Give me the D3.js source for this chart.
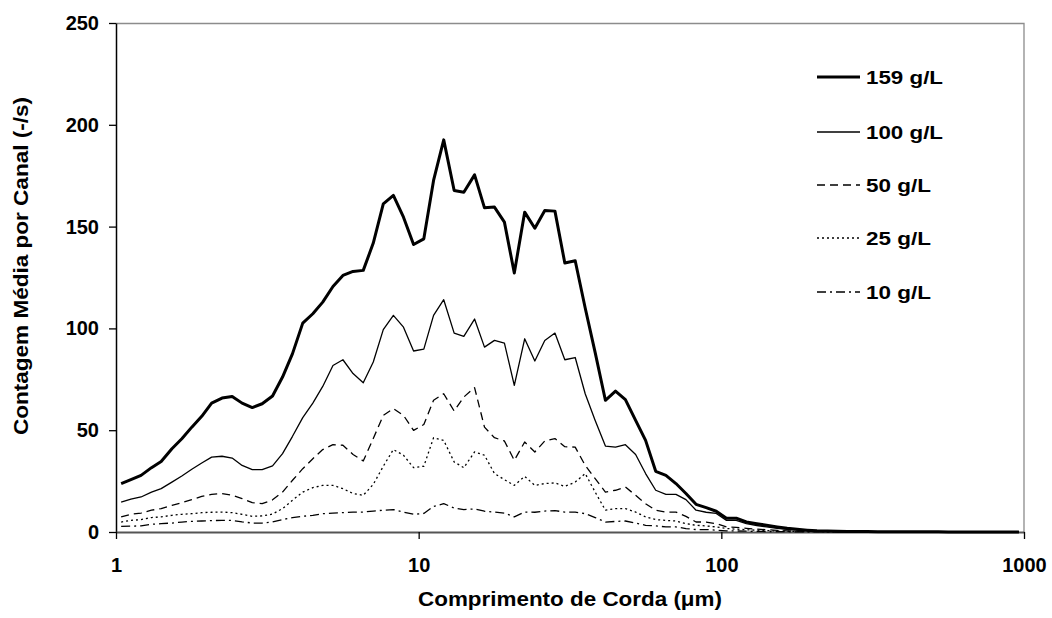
<!DOCTYPE html>
<html>
<head>
<meta charset="utf-8">
<script src="https://cdn.jsdelivr.net/npm/d3@7"></script>
<style>
    body { margin: 0; background: #fff; }
    svg text { font-family: Arial, "Liberation Sans", sans-serif; font-weight: bold; fill: #000; }
</style>
</head>
<body>
<div id="chart"></div>
<script>
// DATA
const channels = [
    1.04, 1.12, 1.21, 1.31, 1.41, 1.53, 1.65, 1.78, 1.92, 2.07, 2.24, 2.42, 2.61, 2.82, 3.04,
    3.29, 3.55, 3.83, 4.14, 4.47, 4.82, 5.21, 5.62, 6.07, 6.56, 7.08, 7.64, 8.25, 8.91, 9.62,
    10.4, 11.2, 12.1, 13.1, 14.1, 15.3, 16.5, 17.8, 19.2, 20.7, 22.4, 24.2, 26.1, 28.2, 30.4,
    32.9, 35.5, 38.3, 41.4, 44.7, 48.2, 52.1, 56.2, 60.7, 65.6, 70.8, 76.4, 82.5, 89.1, 96.2,
    104, 112, 121, 131, 141, 153, 165, 178, 192, 207, 224, 242, 261, 282, 304,
    329, 355, 383, 414, 447, 482, 521, 562, 607, 656, 708, 764, 825, 891, 962
];

const s159 = [
    23.8, 25.7, 27.8, 31.6, 34.6, 40.9, 45.8, 51.5, 56.8, 63.3, 65.8, 66.6, 63.3, 61.1, 63.0,
    66.8, 76.1, 87.6, 102.6, 107.2, 112.9, 120.6, 126, 128, 128.5, 141.9, 161.2, 165.3, 154.6, 141.2,
    144, 172.7, 192.6, 167.7, 166.9, 175.4, 159.2, 159.6, 152.2, 127.2, 157.1, 149.2, 157.9, 157.6, 132.1,
    133.2, 110, 88.1, 64.7, 69.2, 65, 54.8, 45, 29.8, 27.8, 23.8, 18.9, 13.6, 12, 10.2,
    6.8, 6.8, 4.9, 4.1, 3.3, 2.5, 1.8, 1.3, 0.9, 0.6, 0.45, 0.35, 0.3, 0.25, 0.2,
    0.18, 0.15, 0.12, 0.1, 0.1, 0.08, 0.07, 0.06, 0.05, 0.05, 0.04, 0.03, 0.03, 0.02, 0.02
];

const s100 = [
    14.7, 16.1, 17.2, 19.6, 21.3, 24.5, 27.5, 30.8, 33.9, 36.8, 37.2, 36.3, 32.7, 30.6, 30.6,
    32.5, 38.5, 47, 56.2, 63.3, 71.5, 81.8, 84.6, 77.8, 73.3, 83.5, 99.4, 106.4, 100.6, 88.9,
    89.8, 106.4, 114.1, 97.7, 96.1, 104.6, 90.8, 94.1, 92.8, 72, 94.9, 84, 94.1, 97.7, 84.6,
    85.7, 67.9, 54.8, 42.2, 41.7, 42.9, 38.1, 28.7, 20.5, 18.5, 18.5, 15.9, 10.7, 9.7, 9.1,
    5.7, 5.7, 4.1, 3.2, 2.5, 1.8, 1.3, 0.9, 0.6, 0.4, 0.3, 0.25, 0.2, 0.15, 0.12,
    0.1, 0.08, 0.07, 0.06, 0.05, 0.04, 0.04, 0.03, 0.03, 0.02, 0.02, 0.02, 0.01, 0.01, 0.01
];

const s50 = [
    7.4, 8.7, 9.3, 10.7, 11.5, 13.1, 14.4, 15.9, 17.5, 18.5, 18.9, 18, 16.4, 14.4, 13.9,
    15.8, 19.6, 25.4, 31.1, 36, 40.5, 42.9, 42.6, 38.1, 34.9, 45.9, 57.3, 60.6, 57.3, 49.9,
    52.8, 64.7, 67.9, 59.4, 66.3, 70.9, 51.5, 46.3, 44.7, 35.2, 44.2, 39.3, 44.7, 45.9, 41.9,
    41.7, 32.7, 26.2, 19.6, 20.5, 22.1, 18, 13.9, 10.7, 9.8, 9.8, 7.7, 4.9, 4.9, 4.1,
    2.5, 2.3, 1.8, 1.4, 1.1, 0.8, 0.6, 0.4, 0.3, 0.2, 0.15, 0.12, 0.1, 0.08, 0.06,
    0.05, 0.04, 0.03, 0.03, 0.02, 0.02, 0.02, 0.01, 0.01, 0.01, 0.01, 0.01, 0.01, 0.01, 0.01
];

const s25 = [
    4.9, 5.7, 6.1, 7.1, 7.4, 8.2, 8.7, 9, 9.5, 9.7, 9.8, 9.5, 8.7, 7.7, 7.9,
    8.8, 11.5, 15.6, 19.6, 21.8, 22.9, 22.9, 21.3, 18.9, 18, 23.4, 32.3, 40.5, 37.7, 31.6,
    32.3, 46.3, 45, 34.4, 31.6, 39.3, 37.7, 28.7, 25.7, 22.9, 27.3, 22.9, 23.8, 24.1, 22.4,
    24.5, 28.7, 19.6, 10.7, 11.5, 11.5, 9.8, 7.4, 6.1, 5.7, 5.4, 4.1, 3.3, 3, 2.5,
    1.7, 1.4, 1.1, 0.9, 0.7, 0.5, 0.4, 0.3, 0.2, 0.15, 0.1, 0.08, 0.06, 0.05, 0.04,
    0.03, 0.03, 0.02, 0.01, 0.01, 0.01, 0.01, 0.01, 0.01, 0.01, 0.01, 0.01, 0.01, 0.01, 0.01
];

const s10 = [
    2.8, 2.9, 3, 3.8, 4.1, 4.4, 4.9, 5.2, 5.4, 5.6, 5.7, 5.7, 5, 4.4, 4.4,
    4.9, 6.1, 7.1, 7.7, 8.2, 9, 9.3, 9.5, 9.8, 9.8, 10.3, 10.7, 11, 9.8, 8.7,
    9.1, 12.6, 13.9, 11.8, 11, 11.3, 10.2, 9.8, 9.3, 7.4, 9.8, 9.7, 10.3, 10.5, 9.8,
    9.8, 9, 7.1, 4.9, 5.2, 5.4, 4.4, 3.3, 3, 2.5, 2.5, 1.7, 1.2, 1.2, 0.9,
    0.6, 0.5, 0.4, 0.3, 0.25, 0.2, 0.15, 0.1, 0.08, 0.06, 0.05, 0.04, 0.03, 0.02, 0.01,
    0.01, 0.01, 0.01, 0.01, 0.01, 0.01, 0.01, 0.01, 0.01, 0.01, 0.01, 0.01, 0.01, 0.01, 0.01
];

const seriesNames = ["159 g/L", "100 g/L", "50 g/L", "25 g/L", "10 g/L"];
const seriesValues = [s159, s100, s50, s25, s10];
const xTicks = [1, 10, 100, 1000];
const yTicks = [0, 50, 100, 150, 200, 250];

// STYLE per series (width, dash)
const lineStyles = [
    { width: 3, dash: null },
    { width: 1.3, dash: null },
    { width: 1.3, dash: "8,5" },
    { width: 1.3, dash: "2,3" },
    { width: 1.3, dash: "9,4,2,4" }
];

const W = 1052, H = 618;
const margin = { top: 23, right: 28, bottom: 86, left: 116 };
const width = W - margin.left - margin.right;
const height = H - margin.top - margin.bottom;

const svg = d3.select("#chart")
    .append("svg")
    .attr("width", W)
    .attr("height", H);

const g = svg.append("g")
    .attr("transform", `translate(${margin.left}, ${margin.top})`);

const xScale = d3.scaleLog().domain([1, 1000]).range([0, width]);
const yScale = d3.scaleLinear().domain([0, 250]).range([height, 0]);

// PLOT AREA BORDER (top, right)
g.append("path")
    .attr("d", `M0,0.5H${width}V${height}`)
    .attr("fill", "none")
    .attr("stroke", "#8c8c8c")
    .attr("stroke-width", 1.3);

// AXES
const yAxis = d3.axisLeft(yScale)
    .tickValues(yTicks)
    .tickSizeInner(7)
    .tickSizeOuter(0)
    .tickPadding(10);

const yAxisGroup = g.append("g").call(yAxis);
yAxisGroup.select(".domain").attr("stroke", "#000").attr("stroke-width", 1.5);
yAxisGroup.selectAll(".tick line").attr("stroke", "#000").attr("stroke-width", 1.3);
yAxisGroup.selectAll(".tick text").style("font-size", "20px");

const xAxis = d3.axisBottom(xScale)
    .tickValues(xTicks)
    .tickFormat(d3.format("d"))
    .tickSizeInner(7)
    .tickSizeOuter(0)
    .tickPadding(19);

const xAxisGroup = g.append("g")
    .attr("transform", `translate(0, ${height})`)
    .call(xAxis);
xAxisGroup.select(".domain").attr("stroke", "#555").attr("stroke-width", 2);
xAxisGroup.selectAll(".tick line").attr("stroke", "#000").attr("stroke-width", 1.3);
xAxisGroup.selectAll(".tick text").style("font-size", "20px");

// AXIS TITLES
svg.append("text")
    .attr("x", margin.left + width / 2)
    .attr("y", 606)
    .attr("text-anchor", "middle")
    .attr("textLength", 304)
    .attr("lengthAdjust", "spacingAndGlyphs")
    .style("font-size", "20px")
    .text("Comprimento de Corda (μm)");

svg.append("text")
    .attr("transform", `translate(28, 266) rotate(-90)`)
    .attr("text-anchor", "middle")
    .attr("textLength", 338)
    .attr("lengthAdjust", "spacingAndGlyphs")
    .style("font-size", "20px")
    .text("Contagem Média por Canal (-/s)");

// LINES
const line = d3.line()
    .x((d, i) => xScale(channels[i]))
    .y(d => yScale(d));

seriesValues.forEach((vals, k) => {
    g.append("path")
        .datum(vals)
        .attr("fill", "none")
        .attr("stroke", "#000")
        .attr("stroke-width", lineStyles[k].width)
        .attr("stroke-linejoin", "round")
        .attr("stroke-dasharray", lineStyles[k].dash)
        .attr("d", line);
});

// LEGEND
const legendY = [77, 132, 185, 238, 292];
const legend = svg.append("g");

const legendItem = legend.selectAll(".legend")
    .data(seriesNames)
    .enter().append("g")
    .attr("class", "legend")
    .attr("transform", (d, i) => `translate(817, ${legendY[i]})`);

legendItem.append("line")
    .attr("x1", 0)
    .attr("x2", 43)
    .attr("y1", 0)
    .attr("y2", 0)
    .attr("stroke", "#000")
    .attr("stroke-width", (d, i) => lineStyles[i].width)
    .attr("stroke-dasharray", (d, i) => lineStyles[i].dash);

legendItem.append("text")
    .attr("x", 49)
    .attr("y", 7)
    .attr("textLength", d => d.length === 7 ? 77 : 65)
    .attr("lengthAdjust", "spacingAndGlyphs")
    .style("font-size", "19px")
    .text(d => d);
</script>
</body>
</html>
